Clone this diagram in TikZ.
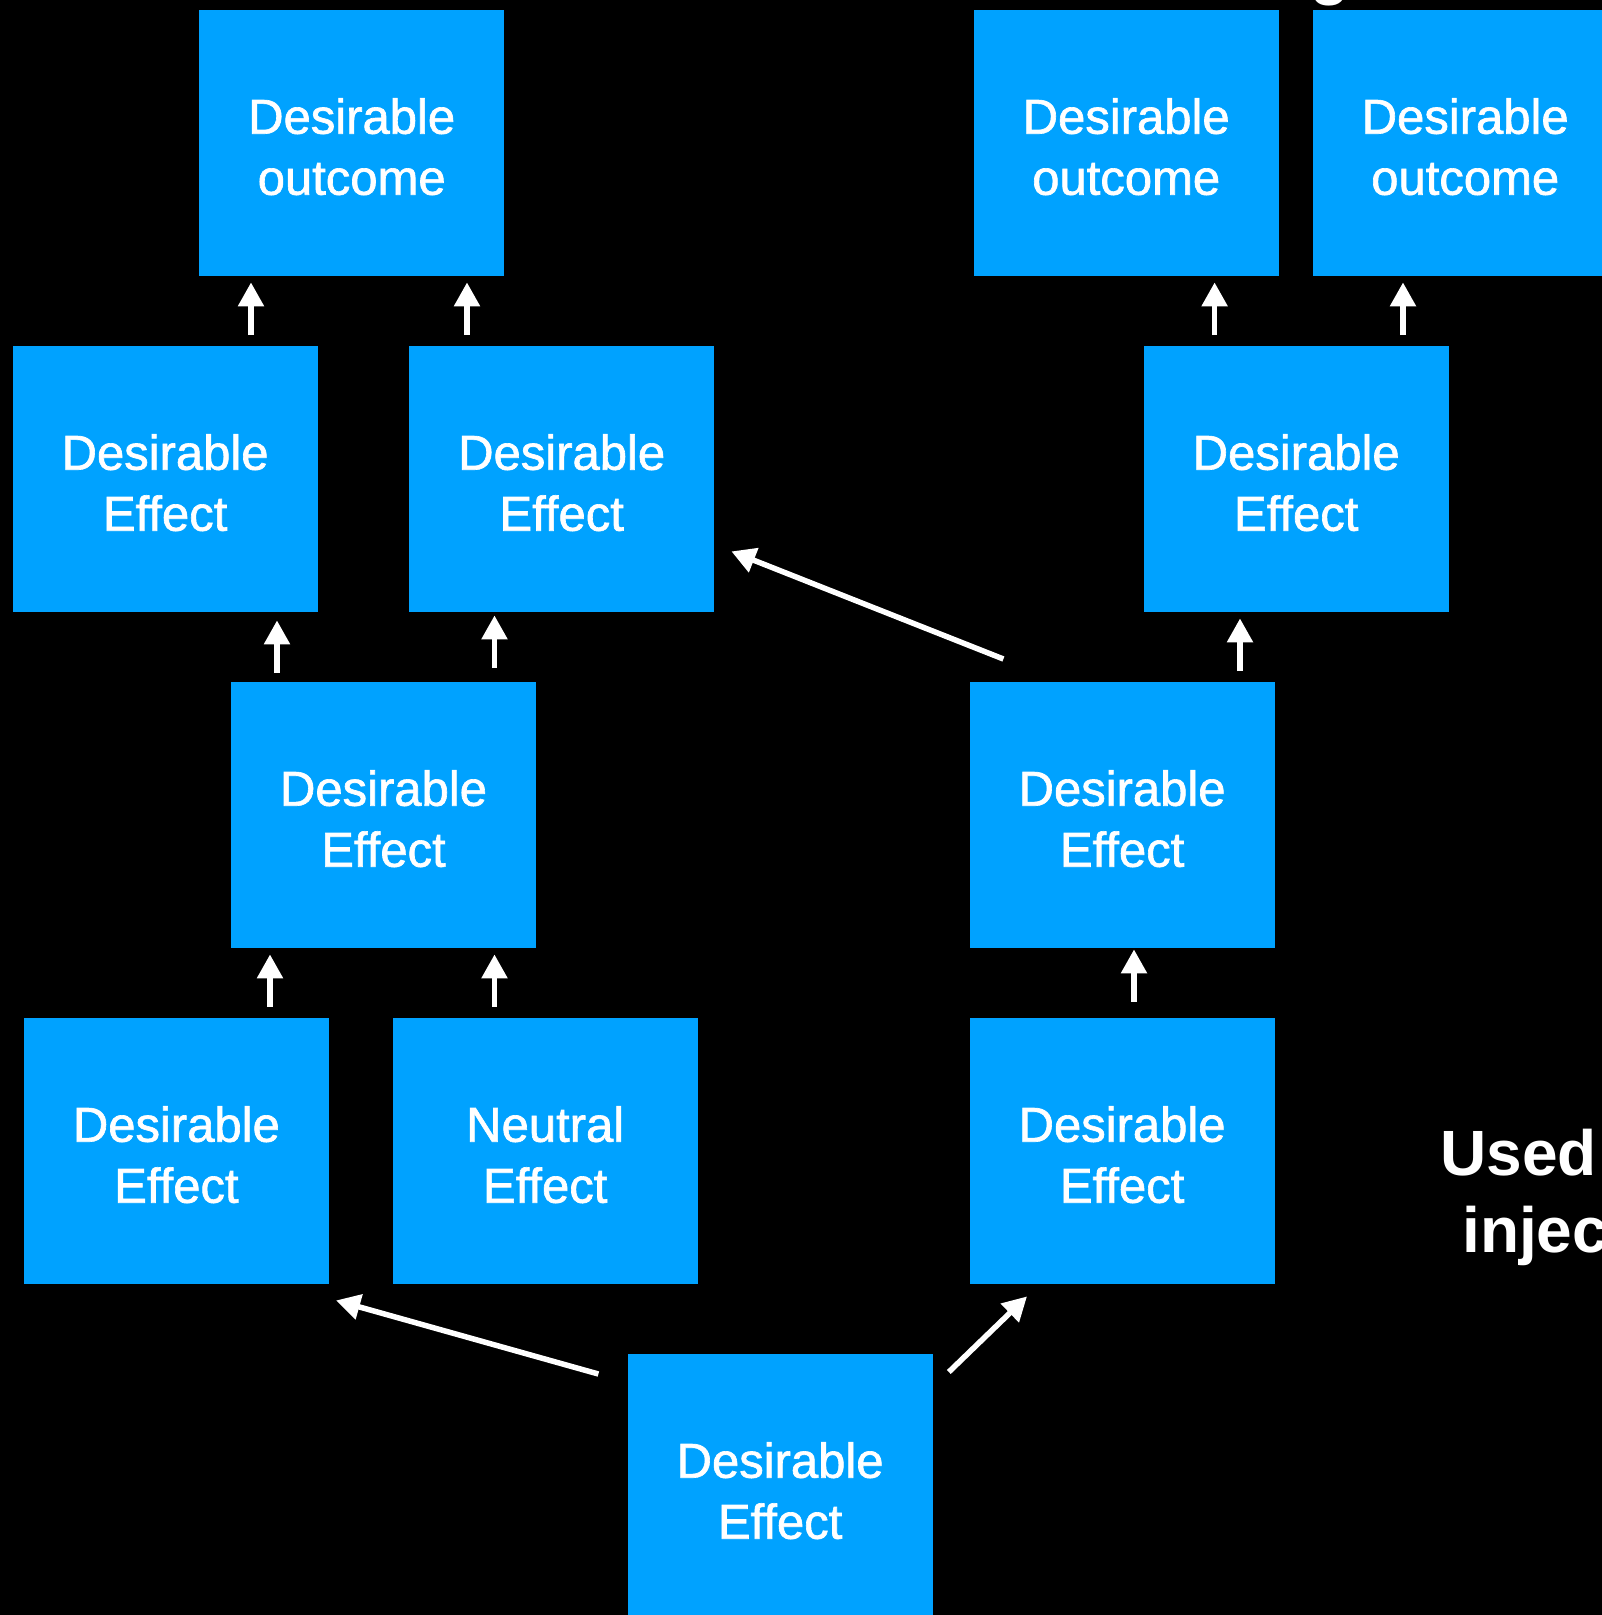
\documentclass[tikz,border=0pt]{standalone}
\usepackage{fontspec}
\setmainfont{Liberation Sans}
\newfontfamily\cardfont[FakeBold=1.3]{Liberation Sans}
\usetikzlibrary{arrows.meta,calc}
\definecolor{boxblue}{RGB}{0,162,255}
\begin{document}
\begin{tikzpicture}[x=1pt,y=-1pt,
  card/.style={fill=boxblue, draw=none, minimum width=305pt, minimum height=266pt,
    anchor=north west, inner sep=0pt},
  cardtext/.style={inner sep=0pt, align=center, text=white, yshift=-3.5pt,
    font=\cardfont\fontsize{49}{61}\selectfont},
  arr/.style={draw=white, line width=5.5pt, -{Triangle[width=25pt,length=24pt]}},
  caption/.style={text=white, inner sep=0pt, anchor=base west,
    font=\fontsize{64}{77}\selectfont\bfseries},
]
\fill[black] (0,0) rectangle (1602,1615);
\useasboundingbox (0,0) rectangle (1602,1615);

% top row: outcomes
\node[card, label={[cardtext]center:Desirable\\outcome}] (A) at (199,10)    {};
\node[card, label={[cardtext]center:Desirable\\outcome}] (B) at (973.5,10)  {};
\node[card, label={[cardtext]center:Desirable\\outcome}] (C) at (1312.5,10) {};
% second row
\node[card, label={[cardtext]center:Desirable\\Effect}] (D) at (12.4,346)   {};
\node[card, label={[cardtext]center:Desirable\\Effect}] (E) at (409,346)    {};
\node[card, label={[cardtext]center:Desirable\\Effect}] (F) at (1143.5,346) {};
% third row
\node[card, label={[cardtext]center:Desirable\\Effect}] (G) at (230.8,682) {};
\node[card, label={[cardtext]center:Desirable\\Effect}] (H) at (969.4,682) {};
% fourth row
\node[card, label={[cardtext]center:Desirable\\Effect}] (I) at (23.7,1018)  {};
\node[card, label={[cardtext]center:Neutral\\Effect}]   (J) at (392.5,1018) {};
\node[card, label={[cardtext]center:Desirable\\Effect}] (K) at (969.4,1018) {};
% bottom
\node[card, label={[cardtext]center:Desirable\\Effect}] (L) at (627.4,1354) {};

% title fragment and side caption
\node[text=white, inner sep=0pt, anchor=base, font=\fontsize{64}{77}\selectfont\bfseries] (title) at (1330,-8) {g};
\node[caption] (used) at (1440,1175) {Used};
\node[caption] (injec) at (1462,1252) {injec};

% vertical links
\draw[arr, shorten <=11pt, shorten >=6pt] (251,0 |- D.north) -- (251,0 |- A.south);
\draw[arr, shorten <=11pt, shorten >=6pt] (467,0 |- E.north) -- (467,0 |- A.south);
\draw[arr, shorten <=11pt, shorten >=6pt] (1214.6,0 |- F.north) -- (1214.6,0 |- B.south);
\draw[arr, shorten <=11pt, shorten >=6pt] (1403,0 |- F.north) -- (1403,0 |- C.south);

\draw[arr, shorten <=9pt, shorten >=8pt] (277,0 |- G.north) -- (277,0 |- D.south);
\draw[arr, shorten <=14pt, shorten >=3pt] (494.5,0 |- G.north) -- (494.5,0 |- E.south);
\draw[arr, shorten <=11pt, shorten >=6pt] (1240,0 |- H.north) -- (1240,0 |- F.south);

\draw[arr, shorten <=11.5pt, shorten >=6pt] (270,0 |- I.north) -- (270,0 |- G.south);
\draw[arr, shorten <=11.5pt, shorten >=6pt] (494.5,0 |- J.north) -- (494.5,0 |- G.south);
\draw[arr, shorten <=16.5pt, shorten >=1pt] (1134,0 |- K.north) -- (1134,0 |- H.south);

% diagonal links
\draw[arr] ($(H.north west)+(34,-23)$) -- ($(E.south east)+(17,-61)$);
\draw[arr] ($(L.north west)+(-29,20)$) -- ($(I.south east)+(7,16)$);
\draw[arr] ($(L.north east)+(16,18)$) -- ($(K.south west)+(57.6,12)$);
\end{tikzpicture}
\end{document}
